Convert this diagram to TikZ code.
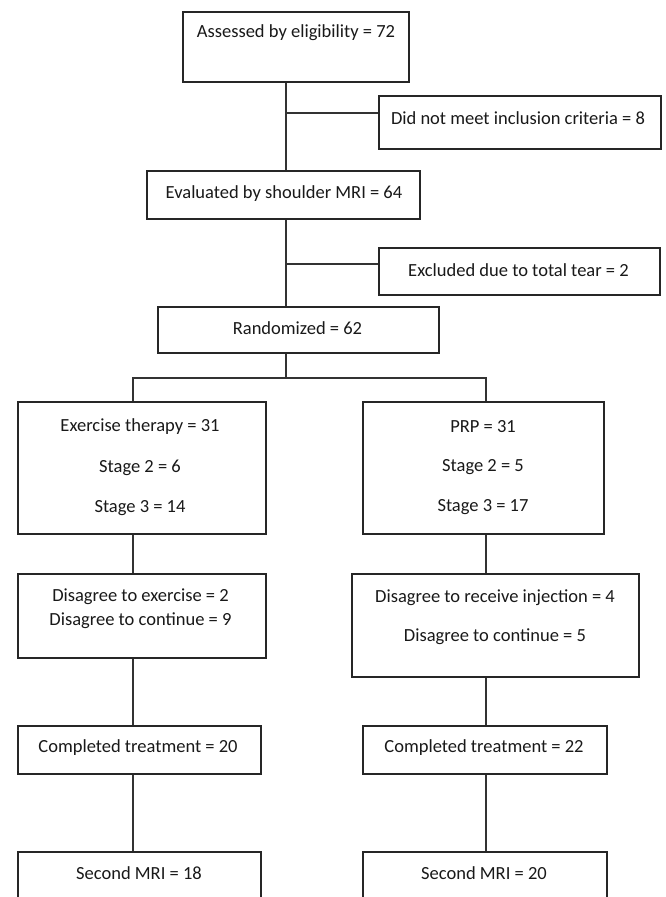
\documentclass[tikz,border=0pt]{standalone}
\usepackage{fontspec}
\setmainfont{Carlito}
\begin{document}
\begin{tikzpicture}[x=1pt,y=-1pt,
  box/.style={draw=black!85, line width=1.5pt, inner sep=0pt},
  txt/.style={font=\fontsize{18.5}{22}\selectfont, inner sep=0pt, text=black!90},
  conn/.style={draw=black!80, line width=1.2pt}]
\clip (0,0) rectangle (665,897);
\fill[white] (0,0) rectangle (665,897);
% boxes
\node[box, minimum width=226pt, minimum height=70pt] (a) at (296,47) {};
\node[box, minimum width=282pt, minimum height=53pt] (dnm) at (520,122.5) {};
\node[box, minimum width=273pt, minimum height=48pt] (ev) at (283.5,195) {};
\node[box, minimum width=281pt, minimum height=47pt] (exc) at (519.5,271.5) {};
\node[box, minimum width=281pt, minimum height=46pt] (rnd) at (298.5,330) {};
\node[box, minimum width=248pt, minimum height=132pt] (ex) at (142,468) {};
\node[box, minimum width=241pt, minimum height=132pt] (prp) at (483.5,468) {};
\node[box, minimum width=248pt, minimum height=84pt] (dl) at (142,616) {};
\node[box, minimum width=287pt, minimum height=103pt] (dr) at (495.5,625.5) {};
\node[box, minimum width=243pt, minimum height=48pt] (cl) at (139.5,750) {};
\node[box, minimum width=244pt, minimum height=48pt] (cr) at (485,750) {};
\node[box, minimum width=243pt, minimum height=68pt] (sl) at (139.5,886) {};
\node[box, minimum width=244pt, minimum height=68pt] (sr) at (485,886) {};
% texts
\node[txt] (ta) at (296,33) {Assessed by eligibility = 72};
\node[txt] (tdnm) at (518,118) {Did not meet inclusion criteria = 8};
\node[txt] (tev) at (284,194) {Evaluated by shoulder MRI = 64};
\node[txt] (texc) at (518.5,270) {Excluded due to total tear = 2};
\node[txt] (trnd) at (297.5,328) {Randomized = 62};
\node[txt] (tex1) at (140,427) {Exercise therapy = 31};
\node[txt] (tex2) at (140,468) {Stage 2 = 6};
\node[txt] (tex3) at (140,508) {Stage 3 = 14};
\node[txt] (tp1) at (483,427) {PRP = 31};
\node[txt] (tp2) at (483,467) {Stage 2 = 5};
\node[txt] (tp3) at (483,507) {Stage 3 = 17};
\node[txt] (tdl1) at (140.5,597) {Disagree to exercise = 2};
\node[txt] (tdl2) at (140.5,621) {Disagree to continue = 9};
\node[txt] (tdr1) at (495,598) {Disagree to receive injection = 4};
\node[txt] (tdr2) at (495,637) {Disagree to continue = 5};
\node[txt] (tcl) at (138,748) {Completed treatment = 20};
\node[txt] (tcr) at (484,748) {Completed treatment = 22};
\node[txt] (tsl) at (139,873) {Second MRI = 18};
\node[txt] (tsr) at (484,873) {Second MRI = 20};
% connectors
\coordinate (sp) at (286,0);
\coordinate (j1) at (286,113);
\coordinate (j2) at (286,264);
\coordinate (j3) at (286,378);
\coordinate (cL) at (133,378);
\coordinate (cR) at (486,378);
\draw[conn] (a.south -| sp) -- (ev.north -| sp);
\draw[conn] (j1) -- (j1 -| dnm.west);
\draw[conn] (ev.south -| sp) -- (rnd.north -| sp);
\draw[conn] (j2) -- (j2 -| exc.west);
\draw[conn] (rnd.south -| sp) -- (j3);
\draw[conn] (ex.north -| cL) -- (cL) -- (cR) -- (prp.north -| cR);
\draw[conn] (ex.south -| cL) -- (dl.north -| cL);
\draw[conn] (dl.south -| cL) -- (cl.north -| cL);
\draw[conn] (cl.south -| cL) -- (sl.north -| cL);
\draw[conn] (prp.south -| cR) -- (dr.north -| cR);
\draw[conn] (dr.south -| cR) -- (cr.north -| cR);
\draw[conn] (cr.south -| cR) -- (sr.north -| cR);
\end{tikzpicture}
\end{document}
